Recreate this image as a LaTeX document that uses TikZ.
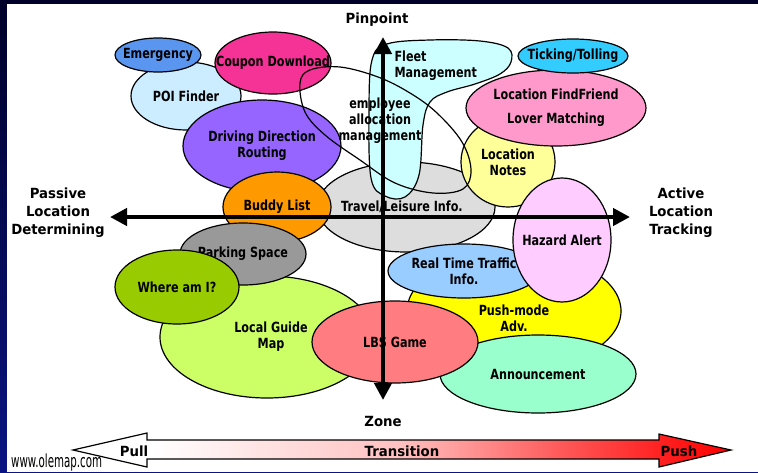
\documentclass[tikz,border=0pt]{standalone}
\usepackage{fontspec}
\setmainfont{DejaVu Sans}
\newfontfamily\blobfont[FakeStretch=0.8]{DejaVu Sans}
\newfontfamily\axisfont[FakeStretch=0.95]{DejaVu Sans}
\newfontfamily\webfont[FakeStretch=0.57]{DejaVu Sans}
\usetikzlibrary{shapes.geometric,arrows.meta}

\definecolor{frametop}{RGB}{0,0,40}
\definecolor{framebot}{RGB}{10,20,130}
\definecolor{emergency}{RGB}{90,150,240}
\definecolor{poi}{RGB}{204,236,255}
\definecolor{coupon}{RGB}{245,50,150}
\definecolor{driving}{RGB}{150,100,255}
\definecolor{buddy}{RGB}{255,153,0}
\definecolor{travel}{RGB}{221,221,221}
\definecolor{parking}{RGB}{153,153,153}
\definecolor{whereami}{RGB}{153,204,0}
\definecolor{guide}{RGB}{204,255,102}
\definecolor{lbs}{RGB}{255,124,128}
\definecolor{traffic}{RGB}{153,204,255}
\definecolor{pushadv}{RGB}{255,255,0}
\definecolor{announce}{RGB}{153,255,204}
\definecolor{hazard}{RGB}{255,204,255}
\definecolor{notes}{RGB}{255,255,153}
\definecolor{friend}{RGB}{255,153,204}
\definecolor{tolling}{RGB}{51,204,255}
\definecolor{fleet}{RGB}{204,255,255}

\pgfdeclarehorizontalshading{transition}{100bp}{color(0bp)=(white);
  color(31bp)=(white); color(50bp)=(red!25); color(62bp)=(red!65);
  color(70bp)=(red!88); color(75bp)=(red); color(100bp)=(red)}

\tikzset{
  blob/.style={
    ellipse,
    draw,
    line width=1.2pt,
    inner sep=0pt
  },
  blobtext/.style={
    font=\blobfont\bfseries\fontsize{14}{16}\selectfont,
    align=center
  },
  axislabel/.style={
    font=\axisfont\bfseries\fontsize{14}{18}\selectfont,
    align=center
  },
  axis/.style={
    line width=4.5pt,
    >={Triangle[length=17pt,width=17pt]},
    <->
  },
}

\begin{document}
\begin{tikzpicture}[x=1pt, y=-1pt]
  \useasboundingbox (0,0) rectangle (758,472);
  % frame
  \shade[top color=frametop, bottom color=framebot] (0,0) rectangle (758,472);
  \fill[white] (7,4) rectangle (758,472);

  % passive side
  \node[blob, fill=poi, minimum width=110pt, minimum height=68pt,
    label={[blobtext]center:POI Finder}] (poi) at (186,96) {};
  \node[blob, fill=emergency, minimum width=86pt, minimum height=34pt,
    label={[blobtext]center:Emergency}] (emergency) at (158,55) {};
  \node[blob, fill=coupon, minimum width=116pt, minimum height=62pt,
    label={[blobtext]center:Coupon Download}] (coupon) at (273,63) {};
  \node[blob, fill=travel, minimum width=178pt, minimum height=90pt,
    label={[blobtext, xshift=-4pt]center:Travel/Leisure Info.}] (travel) at (406,207) {};
  \node[blob, fill=driving, minimum width=158pt, minimum height=92pt,
    label={[blobtext]center:Driving Direction\\Routing}] (driving) at (262,146) {};
  \node[blob, fill=buddy, minimum width=108pt, minimum height=70pt,
    label={[blobtext]center:Buddy List}] (buddy) at (277,207) {};
  \node[blob, fill=guide, minimum width=214pt, minimum height=122pt,
    label={[blobtext, xshift=4pt]center:Local Guide\\Map}] (guide) at (267,337) {};
  \node[blob, fill=parking, minimum width=126pt, minimum height=62pt,
    label={[blobtext]center:Parking Space}] (parking) at (243,254) {};
  \node[blob, fill=whereami, minimum width=124pt, minimum height=74pt,
    label={[blobtext]center:Where am I?}] (whereami) at (177,287) {};

  % active side
  \node[blob, fill=pushadv, minimum width=214pt, minimum height=118pt,
    label={[blobtext, yshift=-7pt]center:Push-mode\\Adv.}] (pushadv) at (514,311) {};
  \node[blob, fill=traffic, minimum width=152pt, minimum height=54pt,
    label={[blobtext]center:Real Time Traffic\\Info.}] (traffic) at (464,271) {};
  \node[blob, fill=announce, minimum width=196pt, minimum height=78pt,
    label={[blobtext]center:Announcement}] (announce) at (538,374) {};
  \node[blob, fill=lbs, minimum width=166pt, minimum height=82pt,
    label={[blobtext]center:LBS Game}] (lbs) at (395,342) {};
  \node[blob, fill=notes, minimum width=94pt, minimum height=90pt,
    label={[blobtext]center:Location\\Notes}] (notes) at (508,162) {};
  \node[blob, fill=friend, minimum width=180pt, minimum height=76pt,
    label={[blobtext]center:Location FindFriend\\[8pt]Lover Matching}] (friend) at (556,108) {};
  \node[blob, fill=tolling, minimum width=110pt, minimum height=34pt,
    label={[blobtext]center:Ticking/Tolling}] (tolling) at (573,56) {};
  \node[blob, fill=hazard, minimum width=98pt, minimum height=124pt,
    label={[blobtext]center:Hazard Alert}] (hazard) at (562,240) {};

  % fleet and staff loop
  \draw[line width=1.2pt, fill=fleet] plot[smooth cycle, tension=0.6] coordinates {
    (387,44) (430,40) (480,41) (508,48) (511,62) (500,74) (475,84) (447,92)
    (430,102) (423,125) (419,175) (405,197) (385,196) (371,178) (369,110) (372,60)};
  \node[blobtext, align=left, anchor=west] (fleettext) at (391,66) {Fleet\\Management};
  \draw[line width=1.2pt] plot[smooth cycle, tension=0.6] coordinates {
    (300,83) (305,112) (325,135) (360,160) (395,183) (433,193) (463,189)
    (471,170) (462,142) (437,113) (410,93) (378,77) (340,67) (310,70)};
  \node[blobtext] (staff) at (380,121) {employee\\allocation\\management};

  % axes
  \coordinate (west) at (110,217);
  \coordinate (east) at (630,217);
  \coordinate (north) at (383,37);
  \coordinate (south) at (383,400);
  \draw[axis] (west) -- (east);
  \draw[axis] (south) -- (north);
  \node[axislabel] (pinpoint) at (377,20) {Pinpoint};
  \node[axislabel] (zone) at (383,421) {Zone};
  \node[axislabel] (passive) at (58,213) {Passive\\Location\\Determining};
  \node[axislabel] (active) at (681,213) {Active\\Location\\Tracking};

  % transition bar
  \shadedraw[shading=transition, line width=1.2pt] (73,450) -- (147,433) -- (147,440)
    -- (659,440) -- (659,434) -- (731,450) -- (659,467) -- (659,459)
    -- (147,459) -- (147,467) -- cycle;
  \node[axislabel] (pull) at (134,451) {Pull};
  \node[axislabel] (middle) at (402,451) {Transition};
  \node[axislabel] (push) at (679,451) {Push};

  \node[font=\webfont\fontsize{18}{18}\selectfont, anchor=base west, inner sep=0pt]
    (web) at (11,467) {www.olemap.com};
\end{tikzpicture}
\end{document}
